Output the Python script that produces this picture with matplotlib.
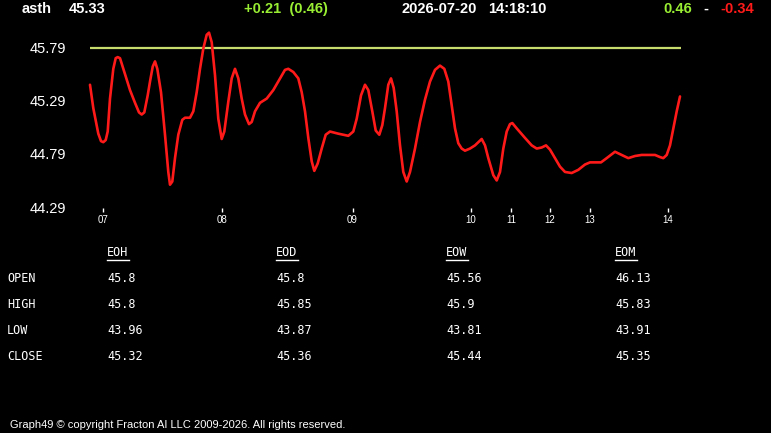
"""
Intraday quote panel: price curve with reference level, header strip and
an OHLC summary table underneath. Rendered headless to out.png.
"""
import matplotlib

matplotlib.use("Agg")
import matplotlib.pyplot as plt  # noqa: E402

W, H = 771, 433

# price series (t = sample position along the session, price)
t = [0, 3.3, 8.3, 11, 13.3, 15.7, 17.7, 20, 23.3, 25.7, 27.7, 30, 33.3, 40,
     45, 49, 51.7, 54.3, 57.7, 60, 62.7, 65, 67.3, 71, 75, 78.3, 80, 82.3,
     85, 88.3, 92.3, 95, 100, 103.3, 106.7, 110, 113.3, 116.7, 119, 121.7,
     125, 128.3, 131.7, 134.3, 138.3, 141.7, 145, 148.3, 151.7, 155, 159,
     161.7, 165, 170, 176.7, 183.3, 190, 195, 198.3, 203.3, 208.3, 211.7,
     215, 218.3, 221.7, 224.3, 227.7, 231.7, 235.7, 240, 248.3, 258.3,
     263.3, 266.7, 271, 275, 278.3, 282.3, 285.7, 289.3, 292.3, 295, 298.3,
     301, 303.7, 306.7, 310, 313.3, 316.7, 320, 325, 330, 335, 340, 345,
     350, 354.3, 358.3, 361.7, 365, 368.3, 371.7, 375, 380, 385, 391.7, 395,
     398.3, 403.3, 406.7, 410, 413.3, 416.7, 420, 422.3, 426.7, 435, 441.7,
     446.7, 451.7, 456, 460, 465, 470, 475, 481.7, 488.3, 495, 500, 511,
     516.7, 525, 531.7, 538.3, 545, 551.7, 565, 570, 573.3, 576.7, 580,
     583.3, 586.7, 590]
price = [45.44, 45.22, 44.98, 44.91, 44.90, 44.92, 45.00, 45.31, 45.59,
         45.69, 45.70, 45.69, 45.59, 45.39, 45.27, 45.18, 45.16, 45.18,
         45.34, 45.47, 45.61, 45.66, 45.59, 45.37, 44.97, 44.62, 44.50,
         44.53, 44.75, 44.97, 45.11, 45.13, 45.13, 45.19, 45.37, 45.59,
         45.78, 45.91, 45.93, 45.84, 45.53, 45.12, 44.93, 45.00, 45.28,
         45.50, 45.59, 45.50, 45.31, 45.16, 45.07, 45.09, 45.19, 45.27,
         45.31, 45.39, 45.50, 45.58, 45.59, 45.56, 45.50, 45.37, 45.19,
         44.94, 44.72, 44.63, 44.70, 44.84, 44.97, 45.00, 44.98, 44.96,
         45.00, 45.12, 45.34, 45.44, 45.39, 45.19, 45.01, 44.97, 45.06,
         45.22, 45.44, 45.50, 45.41, 45.19, 44.87, 44.62, 44.53, 44.62,
         44.84, 45.09, 45.30, 45.47, 45.58, 45.62, 45.59, 45.47, 45.25,
         45.03, 44.89, 44.84, 44.82, 44.84, 44.87, 44.93, 44.87, 44.75,
         44.59, 44.54, 44.62, 44.84, 45.00, 45.07, 45.08, 45.03, 44.94,
         44.87, 44.84, 44.85, 44.87, 44.83, 44.75, 44.67, 44.62, 44.61,
         44.64, 44.69, 44.71, 44.71, 44.75, 44.81, 44.78, 44.75, 44.77,
         44.78, 44.78, 44.76, 44.75, 44.78, 44.87, 45.03, 45.19, 45.33]
ref_level = 45.79

hour_pos = [13, 131.5, 262.5, 381, 421, 460, 499.5, 578]
hour_labels = ["07", "08", "09", "10", "11", "12", "13", "14"]
y_ticks = [45.79, 45.29, 44.79, 44.29]

# header strip
symbol = "asth"
last = "45.33"
change = "+0.21  (0.46)"
stamp_date = "2026-07-20"
stamp_time = "14:18:10"
range_hi = "0.46"
range_lo = "-0.34"

# OHLC table
columns = ["EOH", "EOD", "EOW", "EOM"]
rows = ["OPEN", "HIGH", "LOW", "CLOSE"]
table = [
    ["45.8", "45.8", "45.56", "46.13"],
    ["45.8", "45.85", "45.9", "45.83"],
    ["43.96", "43.87", "43.81", "43.91"],
    ["45.32", "45.36", "45.44", "45.35"],
]

footer = "Graph49 \u00a9 copyright Fracton AI LLC 2009-2026. All rights reserved."

GREEN = "#99ee33"
RED = "#ff1a1a"
YELLOW = "#c8dc6e"


def fx(x):
    return x / W


def fy(y):
    return 1 - y / H


fig = plt.figure(figsize=(W / 100, H / 100), dpi=100, facecolor="black")

# plot area: x 90..681 px, y 25..208 px
ax = fig.add_axes([fx(90), fy(208), (681 - 90) / W, (208 - 25) / H])
ax.set_facecolor("black")
ax.set_xlim(0, 591)
ax.set_ylim(44.281, 46.002)
for s in ax.spines.values():
    s.set_visible(False)

ax.axhline(ref_level, color=YELLOW, lw=1.6)
ax.plot(t, price, color=RED, lw=1.9, solid_joinstyle="round",
        solid_capstyle="round", clip_on=False)

ax.set_yticks(y_ticks, [f"{v:.2f}" for v in y_ticks])
ax.tick_params(axis="y", length=0, pad=17, labelsize=10.5, labelcolor="white")
ax.set_xticks(hour_pos, hour_labels)
ax.tick_params(axis="x", length=3, width=1, color="white", pad=2,
               labelsize=7, labelcolor="white")
for lab in ax.get_yticklabels() + ax.get_xticklabels():
    lab.set_family("Liberation Sans")

# header
hdr = dict(fontsize=10.5, fontweight="bold", family="Liberation Sans",
           va="center")
fig.text(fx(22), fy(9), symbol, color="white", **hdr)
fig.text(fx(69), fy(9), last, color="white", **hdr)
fig.text(fx(244), fy(9), change, color=GREEN, **hdr)
fig.text(fx(401), fy(9), stamp_date, color="white", **hdr)
fig.text(fx(488), fy(9), stamp_time, color="white", **hdr)
fig.text(fx(663), fy(9), range_hi, color=GREEN, **hdr)
fig.text(fx(703), fy(9), "-", color="white", **hdr)
fig.text(fx(720), fy(9), range_lo, color=RED, **hdr)

# table
mono = dict(fontsize=8.5, family="DejaVu Sans Mono", color="white",
            va="center")
col_x = [107, 276, 446, 615]
row_y = [279, 304, 330, 357]
for cx, name in zip(col_x, columns):
    fig.text(fx(cx), fy(253), name, **mono)
    fig.add_artist(plt.Line2D([fx(cx), fx(cx + 22)], [fy(260), fy(260)],
                              color="white", lw=1))
for ry, name, vals in zip(row_y, rows, table):
    fig.text(fx(7), fy(ry), name, **mono)
    for cx, v in zip(col_x, vals):
        fig.text(fx(cx), fy(ry), v, **mono)

fig.text(fx(10), fy(425), footer, fontsize=8, family="Liberation Sans",
         color="white", va="center")

fig.savefig("out.png", dpi=100, facecolor="black")
